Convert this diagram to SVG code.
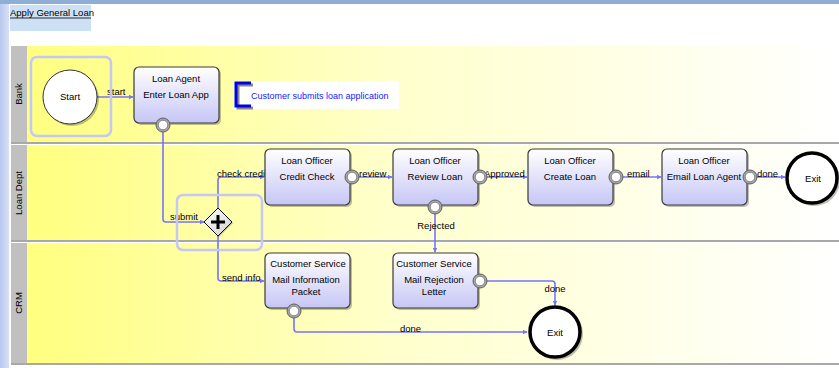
<svg xmlns="http://www.w3.org/2000/svg" width="839" height="368" viewBox="0 0 839 368">
<defs>
<linearGradient id="lane" x1="28" y1="0" x2="838" y2="0" gradientUnits="userSpaceOnUse">
<stop offset="0" stop-color="#ffff80"/><stop offset="0.45" stop-color="#ffffcc"/><stop offset="1" stop-color="#ffffff"/>
</linearGradient>
<linearGradient id="task" x1="0" y1="0" x2="0" y2="1">
<stop offset="0" stop-color="#ffffff"/><stop offset="1" stop-color="#c6c6f6"/>
</linearGradient>
<linearGradient id="gw" x1="0" y1="0" x2="1" y2="1">
<stop offset="0" stop-color="#ffffff"/><stop offset="1" stop-color="#d0d0d0"/>
</linearGradient>
<linearGradient id="frame" x1="0" y1="0" x2="1" y2="0">
<stop offset="0" stop-color="#b8c8ec"/><stop offset="1" stop-color="#d8e0f6"/>
</linearGradient>
<marker id="arr" viewBox="0 0 10 10" refX="9" refY="5" markerWidth="5" markerHeight="5" orient="auto" markerUnits="userSpaceOnUse">
<path d="M0,0 L10,5 L0,10 z" fill="#7474ff"/>
</marker>
<g id="port"><circle r="7" fill="#a8a8a8" stroke="#606060" stroke-width="1"/><circle r="4.8" fill="#ffffff" stroke="#707070" stroke-width="0.8"/></g>
</defs>
<style>
text{font-family:"Liberation Sans",Arial,sans-serif;font-size:9.5px;fill:#000}
.t{text-anchor:middle}
.task{fill:url(#task);stroke:#3a3a3a;stroke-width:1.2}
.shadow{fill:#000;opacity:0.25}
.sel{fill:none;stroke:#c4c8f2;stroke-width:2.5}
.conn{fill:none;stroke:#7474ff;stroke-width:1.6}
.hdr{fill:#c0c0c0}
.div{stroke:#a8a8a8;stroke-width:2}
.note{fill:#2020ff;font-size:9px}
</style>
<rect x="0" y="0" width="839" height="368" fill="#ffffff"/>
<rect x="0" y="0" width="9" height="368" fill="url(#frame)"/>
<rect x="0" y="0" width="839" height="4" fill="#8eaed6"/>
<g id="title">
<rect x="10" y="5" width="81" height="26" fill="#cde0f5"/>
<text x="10" y="16">Apply General Loan</text>
<line x1="10" y1="18" x2="91" y2="18" stroke="#000" stroke-width="0.8"/>
</g>
<g id="lanes">
<rect x="11" y="46" width="828" height="96" fill="url(#lane)"/>
<rect x="11" y="145" width="828" height="95" fill="url(#lane)"/>
<rect x="11" y="243" width="828" height="120" fill="url(#lane)"/>
<rect class="hdr" x="11" y="46" width="16" height="96"/>
<rect class="hdr" x="11" y="145" width="16" height="95"/>
<rect class="hdr" x="11" y="243" width="16" height="120"/>
<line class="div" x1="11" y1="143" x2="839" y2="143"/>
<line class="div" x1="11" y1="241" x2="839" y2="241"/>
<line class="div" x1="11" y1="364" x2="839" y2="364"/>
<text class="t" transform="translate(22,94) rotate(-90)">Bank</text>
<text class="t" transform="translate(22,193) rotate(-90)">Loan Dept</text>
<text class="t" transform="translate(22,303) rotate(-90)">CRM</text>
</g>
<g id="connectors">
<path class="conn" d="M97,97 H133" marker-end="url(#arr)"/>
<path class="conn" d="M163,132 V219 Q163,222 166,222 H204" marker-end="url(#arr)"/>
<path class="conn" d="M218,208 V180 Q218,177 221,177 H264" marker-end="url(#arr)"/>
<path class="conn" d="M218,236 V278 Q218,281 221,281 H264" marker-end="url(#arr)"/>
<path class="conn" d="M359,177 H392" marker-end="url(#arr)"/>
<path class="conn" d="M487,177 H527" marker-end="url(#arr)"/>
<path class="conn" d="M623,177 H661" marker-end="url(#arr)"/>
<path class="conn" d="M757,177 H785" marker-end="url(#arr)"/>
<path class="conn" d="M435,214 V252" marker-end="url(#arr)"/>
<path class="conn" d="M294,318 V329 Q294,332 297,332 H527" marker-end="url(#arr)"/>
<path class="conn" d="M487,281 H552 Q555,281 555,284 V305" marker-end="url(#arr)"/>
<text x="107" y="95">start</text>
<text x="170" y="220">submit</text>
<text x="217" y="177">check credit</text>
<text x="222" y="281">send info</text>
<text x="359" y="177">review</text>
<text x="484" y="177">Approved</text>
<text x="627" y="177">email</text>
<text x="757" y="177">done</text>
<text class="t" x="436" y="229">Rejected</text>
<text x="400" y="332">done</text>
<text class="t" x="555" y="292">done</text>
</g>
<g id="start">
<rect class="sel" x="31" y="57" width="80" height="79" rx="6"/>
<circle cx="72" cy="99" r="27" class="shadow"/>
<circle cx="70" cy="97" r="27" fill="#ffffff" stroke="#333" stroke-width="1"/>
<text class="t" x="70" y="100">Start</text>
</g>
<g id="enterLoanApp">
<rect class="shadow" x="136" y="69" width="85" height="56" rx="5"/>
<rect class="task" x="134" y="67" width="85" height="56" rx="5"/>
<text class="t" x="176" y="82">Loan Agent</text>
<text class="t" x="176" y="98">Enter Loan App</text>
<use href="#port" x="163" y="125"/>
</g>
<g id="annotation">
<rect x="234" y="81" width="165" height="28" fill="#ffffff"/>
<path d="M253,85 H238 V108 H253" fill="none" stroke="#888" stroke-width="3"/>
<path d="M251,83 H236 V106 H251" fill="none" stroke="#0000e6" stroke-width="3"/>
<text class="note" x="251" y="99">Customer submits loan application</text>
</g>
<g id="gateway">
<rect class="sel" x="177" y="195" width="85" height="55" rx="6"/>
<path d="M219,209 L233,223 L219,237 L205,223 z" fill="#000" opacity="0.25"/>
<path d="M218,208 L232,222 L218,236 L204,222 z" fill="url(#gw)" stroke="#000" stroke-width="1"/>
<path d="M218,215 V229 M211,222 H225" stroke="#000" stroke-width="3"/>
</g>
<g id="creditCheck">
<rect class="shadow" x="267" y="151" width="85" height="56" rx="5"/>
<rect class="task" x="265" y="149" width="85" height="56" rx="5"/>
<text class="t" x="307" y="164">Loan Officer</text>
<text class="t" x="307" y="180">Credit Check</text>
<use href="#port" x="352" y="177"/>
</g>
<g id="reviewLoan">
<rect class="shadow" x="395" y="151" width="85" height="56" rx="5"/>
<rect class="task" x="393" y="149" width="85" height="56" rx="5"/>
<text class="t" x="435" y="164">Loan Officer</text>
<text class="t" x="435" y="180">Review Loan</text>
<use href="#port" x="480" y="177"/>
<use href="#port" x="435" y="207"/>
</g>
<g id="createLoan">
<rect class="shadow" x="530" y="151" width="85" height="56" rx="5"/>
<rect class="task" x="528" y="149" width="85" height="56" rx="5"/>
<text class="t" x="570" y="164">Loan Officer</text>
<text class="t" x="570" y="180">Create Loan</text>
<use href="#port" x="616" y="177"/>
</g>
<g id="emailLoanAgent">
<rect class="shadow" x="664" y="151" width="85" height="56" rx="5"/>
<rect class="task" x="662" y="149" width="85" height="56" rx="5"/>
<text class="t" x="704" y="164">Loan Officer</text>
<text class="t" x="704" y="180">Email Loan Agent</text>
<use href="#port" x="750" y="177"/>
</g>
<g id="exit1">
<circle cx="814" cy="180" r="26" class="shadow"/>
<circle cx="812" cy="178" r="25" fill="#ffffff" stroke="#000" stroke-width="3.5"/>
<text class="t" x="813" y="182">Exit</text>
</g>
<g id="mailInfo">
<rect class="shadow" x="267" y="255" width="85" height="55" rx="5"/>
<rect class="task" x="265" y="253" width="85" height="55" rx="5"/>
<text class="t" x="308" y="267">Customer Service</text>
<text class="t" x="306" y="283">Mail Information</text>
<text class="t" x="306" y="295">Packet</text>
<use href="#port" x="294" y="311"/>
</g>
<g id="mailRejection">
<rect class="shadow" x="395" y="255" width="85" height="55" rx="5"/>
<rect class="task" x="393" y="253" width="85" height="55" rx="5"/>
<text class="t" x="434" y="267">Customer Service</text>
<text class="t" x="434" y="283">Mail Rejection</text>
<text class="t" x="434" y="295">Letter</text>
<use href="#port" x="480" y="281"/>
</g>
<g id="exit2">
<circle cx="557" cy="334" r="26" class="shadow"/>
<circle cx="555" cy="332" r="25" fill="#ffffff" stroke="#000" stroke-width="3.5"/>
<text class="t" x="555" y="336">Exit</text>
</g>
</svg>
